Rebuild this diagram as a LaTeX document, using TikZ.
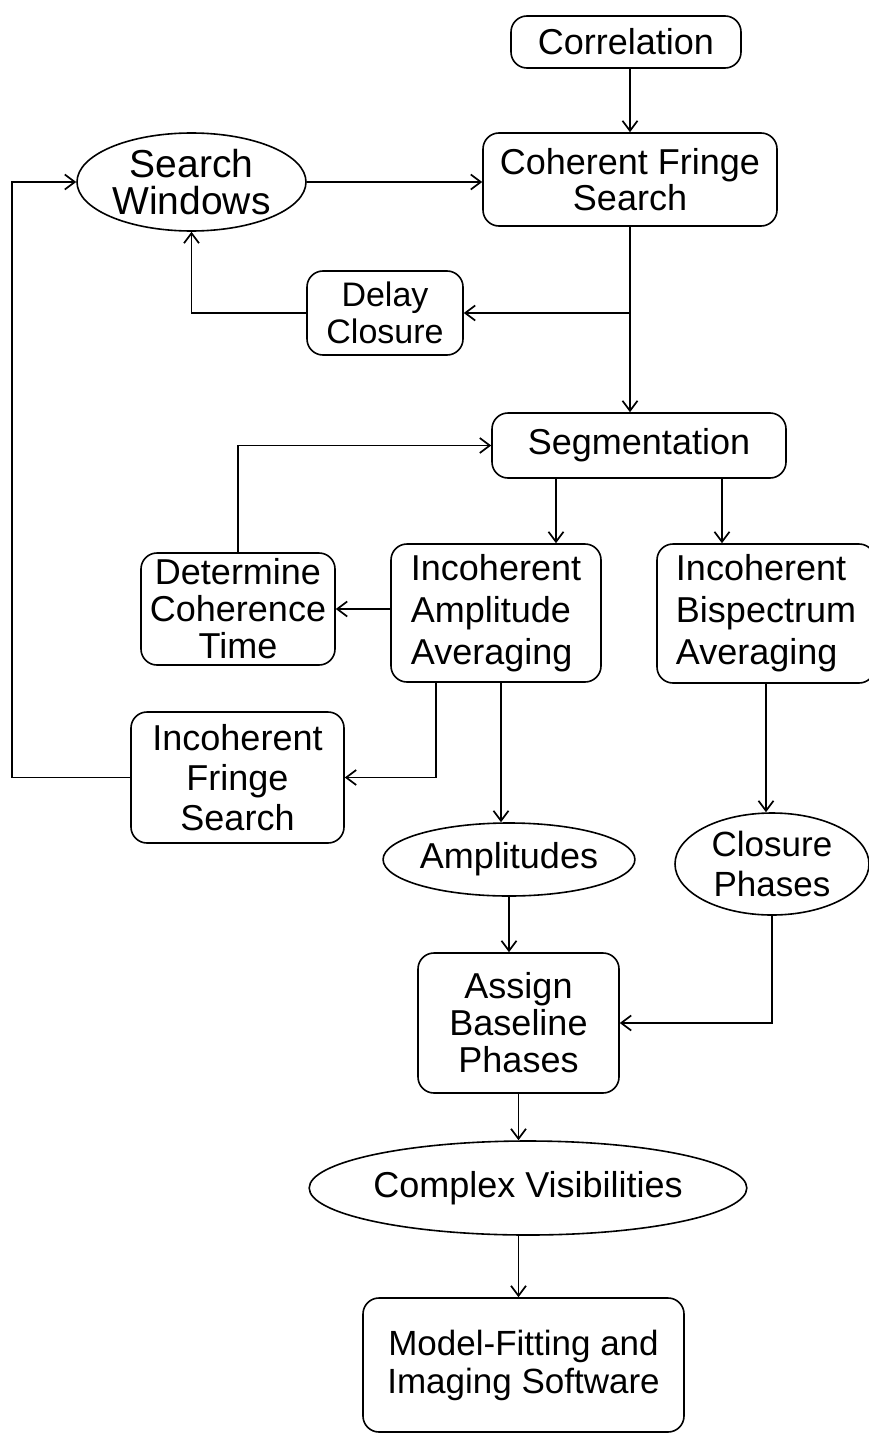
\documentclass[tikz,border=0pt]{standalone}
\usepackage{fontspec}
\setmainfont{Liberation Sans}
\usetikzlibrary{arrows.meta,shapes.geometric}
\tikzset{
  base/.style={draw, line width=1.6pt, inner sep=0pt, align=center,
    font=\fontsize{36}{39}\selectfont},
  rbox/.style={base, rectangle, rounded corners=16pt},
  oval/.style={base, ellipse},
  arr/.style={line width=1.3pt, -{Straight Barb[length=10pt,width=15pt,line width=1.7pt]}},
}
\begin{document}
\begin{tikzpicture}[x=1pt,y=-1pt]
\useasboundingbox (0,0) rectangle (869,1434);
% nodes
\node[rbox, minimum width=230pt, minimum height=52pt] (corr) at (626,42) {Correlation};
\node[rbox, minimum width=294pt, minimum height=93pt,
  font=\fontsize{36}{36}\selectfont] (cfs) at (630,179.5) {Coherent Fringe\\Search};
\node[oval, minimum width=229pt, minimum height=98pt,
  font=\fontsize{39}{37}\selectfont] (sw) at (191.5,182) {Search\\Windows};
\node[rbox, minimum width=156pt, minimum height=84pt,
  font=\fontsize{34}{37}\selectfont] (dc) at (385,313) {Delay\\Closure};
\node[rbox, minimum width=294pt, minimum height=65pt] (seg) at (639,445.5) {Segmentation};
\node[rbox, minimum width=194pt, minimum height=112pt,
  font=\fontsize{36}{37}\selectfont] (dct) at (238,609) {Determine\\Coherence\\Time};
\node[rbox, minimum width=210pt, minimum height=138pt, align=left,
  font=\fontsize{36}{42}\selectfont] (iaa) at (496,613) {Incoherent\\Amplitude\\Averaging};
\node[rbox, minimum width=218pt, minimum height=139pt, align=left,
  font=\fontsize{36}{42}\selectfont] (iba) at (766,613.5) {Incoherent\\Bispectrum\\Averaging};
\node[rbox, minimum width=213pt, minimum height=131pt,
  font=\fontsize{36}{40}\selectfont] (ifs) at (237.5,777.5) {Incoherent\\Fringe\\Search};
\node[oval, minimum width=238pt, minimum height=73pt] (amp) at (509,859.5) {Amplitudes};
\node[oval, minimum width=194pt, minimum height=102pt,
  font=\fontsize{35}{40}\selectfont] (cp) at (772,864) {Closure\\Phases};
\node[rbox, minimum width=201pt, minimum height=140pt,
  font=\fontsize{36}{37}\selectfont] (abp) at (518.5,1023) {Assign\\Baseline\\Phases};
\node[oval, minimum width=368pt, minimum height=94pt] (cv) at (528,1188) {Complex Visibilities};
\node[rbox, minimum width=321pt, minimum height=134pt,
  font=\fontsize{35}{38}\selectfont] (mfis) at (523.5,1365) {Model-Fitting and\\Imaging Software};
% helper coordinates
\coordinate (s1) at ([xshift=60pt]iaa.north);
\coordinate (s2) at ([xshift=-44pt]iba.north);
\coordinate (s3) at ([xshift=-60pt]iaa.south);
\coordinate (s4) at ([xshift=5pt]iaa.south);
\coordinate (lft) at (12,777);
% connectors
\draw[arr] (corr.south -| cfs.north) -- (cfs.north);
\draw[arr] (sw.east) -- (sw.east -| cfs.west);
\draw[arr] (cfs.south) -- (cfs.south |- seg.north);
\draw[arr] (cfs.south |- dc.east) -- (dc.east);
\draw[arr] (dc.west) -| (sw.south);
\draw[arr] (s1 |- seg.south) -- (s1);
\draw[arr] (s2 |- seg.south) -- (s2);
\draw[arr] (dct.north) |- (seg.west);
\draw[arr] (iaa.west |- dct.east) -- (dct.east);
\draw[arr] (s3) |- (ifs.east);
\draw[arr] (ifs.west) -- (ifs.west -| lft) |- (sw.west);
\draw[arr] (s4) -- (s4 |- amp.north);
\draw[arr] (iba.south) -- (iba.south |- cp.north);
\draw[arr] (amp.south) -- (amp.south |- abp.north);
\draw[arr] (cp.south) |- (abp.east);
\draw[arr] (abp.south) -- (abp.south |- cv.north);
\draw[arr] (abp.south |- cv.south) -- (abp.south |- mfis.north);
\end{tikzpicture}
\end{document}
